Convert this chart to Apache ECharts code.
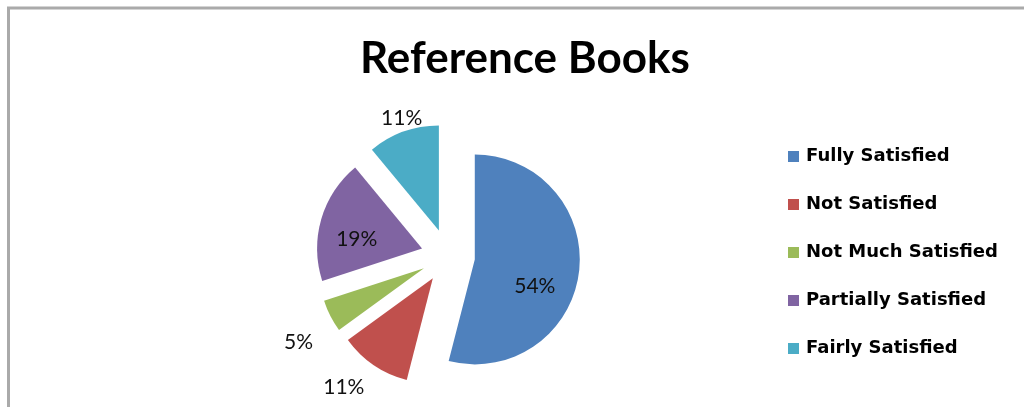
<!DOCTYPE html>
<html>
<head>
<meta charset="utf-8">
<script src="https://cdn.jsdelivr.net/npm/echarts@6/dist/echarts.min.js"></script>
<style>
  html, body { margin: 0; padding: 0; background: #fff; }
  #chart { width: 1024px; height: 407px; }
</style>
</head>
<body>
<div id="chart"></div>
<script>
// categories and shares (percent)
const categories = ['Fully Satisfied', 'Not Satisfied', 'Not Much Satisfied', 'Partially Satisfied', 'Fairly Satisfied'];
const shares = [54, 11, 5, 19, 11];
const colors = ['#4F81BD', '#C0504D', '#9BBB59', '#8064A2', '#4BACC6'];
// which labels sit inside the slice
const insideLabel = [true, false, false, true, false];
// small nudges so labels land where Excel's "best fit" put them
const labelNudge = [[5, 20], [3, 17], [-3, 24], [-12, 6], [30, -8]];

const chart = echarts.init(document.getElementById('chart'));

const pieData = categories.map((name, i) => ({
  name: name,
  value: shares[i],
  selected: true,
  itemStyle: { color: colors[i] },
  label: { position: insideLabel[i] ? 'inside' : 'outside' }
}));

chart.setOption({
  animation: false,
  title: {
    text: 'Reference Books',
    left: 355,
    top: 32,
    textStyle: { fontFamily: 'Lato', fontWeight: 'bold', fontSize: 44, color: '#000' }
  },
  legend: {
    orient: 'vertical',
    left: 783,
    top: 142,
    itemWidth: 11,
    itemHeight: 11,
    itemGap: 29,
    icon: 'rect',
    selectedMode: false,
    textStyle: {
      fontFamily: 'DejaVu Sans', fontWeight: 'bold', fontSize: 18, lineHeight: 19,
      color: '#000', padding: [0, 0, 0, 2]
    },
    data: categories
  },
  graphic: [{
    type: 'rect',
    shape: { x: 8.5, y: 8, width: 1100, height: 500 },
    style: { fill: 'none', stroke: '#aaaaaa', lineWidth: 3 },
    silent: true
  }],
  series: [{
    type: 'pie',
    center: [448, 256],
    radius: 105,
    startAngle: 90,
    clockwise: true,
    selectedMode: 'multiple',
    selectedOffset: 27,
    avoidLabelOverlap: false,
    emphasis: { disabled: true },
    label: {
      formatter: '{c}%',
      fontFamily: 'Lato',
      fontSize: 21,
      color: '#111'
    },
    labelLine: { show: false, length: 6, length2: 4 },
    labelLayout: function (params) {
      const n = labelNudge[params.dataIndex];
      return { dx: n[0], dy: n[1] };
    },
    data: pieData
  }]
});
</script>
</body>
</html>
